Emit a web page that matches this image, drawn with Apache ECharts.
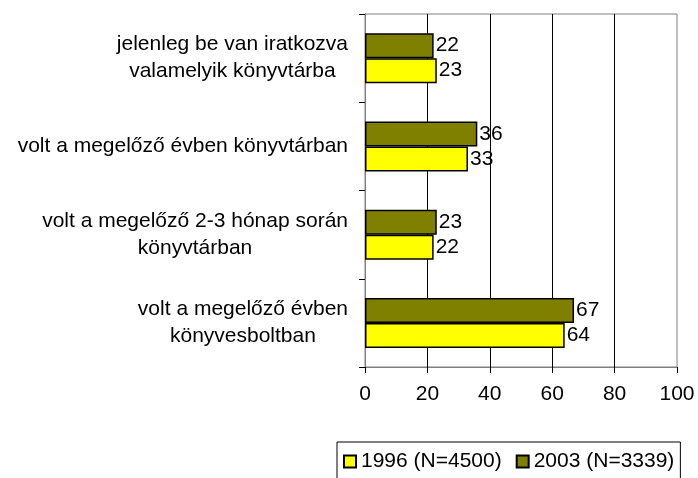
<!DOCTYPE html>
<html>
<head>
<meta charset="utf-8">
<script src="https://cdn.jsdelivr.net/npm/echarts@6/dist/echarts.min.js"></script>
<style>
  html, body { margin: 0; padding: 0; background: #fff; }
  #chart_main { width: 698px; height: 478px; }
</style>
</head>
<body>
<div id="chart_main"></div>
<script>
// kategóriák fentről lefelé
var categories = [
  'jelenleg be van iratkozva\nvalamelyik könyvtárba',
  'volt a megelőző évben könyvtárban',
  'volt a megelőző 2-3 hónap során\nkönyvtárban',
  'volt a megelőző évben\nkönyvesboltban'
];
var values1996 = [23, 33, 22, 64];
var values2003 = [22, 36, 23, 67];
var seriesNames = ['1996 (N=4500)', '2003 (N=3339)'];
var xTicks = [0, 20, 40, 60, 80, 100];

var FONT = "'Liberation Sans', Arial, sans-serif";
var FS = 21;

var myChart = echarts.init(document.getElementById('chart_main'));

function barSeries(name, data, color) {
  return {
    name: name,
    type: 'bar',
    data: data,
    barWidth: 25,
    barGap: '0%',
    itemStyle: { color: color, borderColor: '#000', borderWidth: 1.5 },
    label: {
      show: true,
      position: 'right',
      distance: 2,
      color: '#000',
      fontSize: FS,
      fontFamily: FONT
    }
  };
}

var option = {
  backgroundColor: '#fff',
  animation: false,
  grid: {
    left: 365, right: 21, top: 14, bottom: 111,
    show: true, borderColor: '#808080', borderWidth: 1
  },
  legend: {
    left: 337, top: 442,
    data: seriesNames,
    icon: 'rect',
    itemWidth: 12, itemHeight: 12, itemGap: 14,
    borderColor: '#000', borderWidth: 1,
    padding: [9, 6, 12, 6],
    textStyle: { color: '#000', fontSize: FS, fontFamily: FONT }
  },
  xAxis: {
    type: 'value',
    min: 0, max: 100, interval: 20,
    axisLine: { show: true, lineStyle: { color: '#808080', width: 1 } },
    axisTick: { show: true, length: 6, lineStyle: { color: '#000' } },
    axisLabel: {
      margin: 17, color: '#000', fontSize: FS, fontFamily: FONT,
      formatter: function (v) { return xTicks.indexOf(v) >= 0 ? String(v) : ''; }
    },
    splitLine: { show: true, showMinLine: false, showMaxLine: false, lineStyle: { color: '#000', width: 1 } }
  },
  yAxis: {
    type: 'category',
    inverse: true,
    data: categories,
    axisLine: { show: true, lineStyle: { color: '#808080', width: 1 } },
    axisTick: { show: true, length: 6, lineStyle: { color: '#000' } },
    axisLabel: {
      margin: 17, color: '#000', fontSize: FS, fontFamily: FONT, lineHeight: 27,
      formatter: function (v) {
        return v.split('\n').map(function (l) { return '{c|' + l + '}'; }).join('\n');
      },
      rich: { c: { align: 'center', fontSize: FS, fontFamily: FONT, color: '#000', lineHeight: 27 } }
    }
  },
  series: [
    barSeries(seriesNames[1], values2003, '#808000'),
    barSeries(seriesNames[0], values1996, '#ffff00')
  ]
};

myChart.setOption(option);
</script>
</body>
</html>
